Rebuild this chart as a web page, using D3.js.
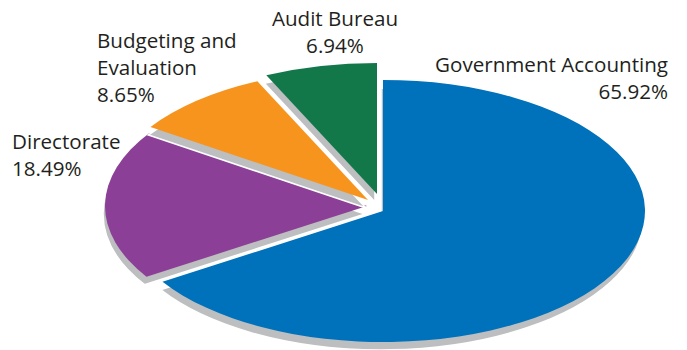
<!DOCTYPE html>
<html>
<head>
<meta charset="utf-8">
<script src="https://cdn.jsdelivr.net/npm/d3@7"></script>
<style>
  html, body { margin: 0; padding: 0; background: #ffffff; }
  svg { display: block; }
  text { font-family: "Open Sans", "Noto Sans", sans-serif; fill: #231f20; }
</style>
</head>
<body>
<svg id="chart" width="687" height="350"></svg>
<script>
// Expenditure share by unit
const categories = ["Government Accounting", "Directorate", "Budgeting and Evaluation", "Audit Bureau"];
const shares = [65.92, 18.49, 8.65, 6.94];
const labelLines = [["Government Accounting"], ["Directorate"], ["Budgeting and", "Evaluation"], ["Audit Bureau"]];
const colors = ["#0071bb", "#8c3f96", "#f7941e", "#12784a"];

// Layout
const W = 687, H = 350;
const cx = 383, cy = 211;
const rx = 262, ry = 131;
const squash = ry / rx;
const depth = { dx: -2, dy: 8 };
const sideColor = "#bcbec0";
// how far each wedge is pulled out from the centre (screen px)
const explode = [[0, 0], [-16, -5], [-15, -11], [-6, -17]];
// label anchors: x, first baseline, text-anchor
const labelPos = [
  { x: 668, y: 72, anchor: "end" },
  { x: 12, y: 149, anchor: "start" },
  { x: 97, y: 48, anchor: "start" },
  { x: 335, y: 26, anchor: "middle" }
];
const lineHeight = 27;
const fontSize = 20.6;

const svg = d3.select("#chart");

const pie = d3.pie().sort(null).value(d => d).startAngle(0).endAngle(2 * Math.PI);
const arcs = pie(shares);
const arc = d3.arc().innerRadius(0).outerRadius(rx);

const wedges = svg.append("g").attr("class", "wedges");

arcs.forEach((a, i) => {
  const g = wedges.append("g")
    .attr("transform", `translate(${cx + explode[i][0]},${cy + explode[i][1]})`);

  // extruded side of the wedge
  g.append("path")
    .attr("d", arc(a))
    .attr("transform", `translate(${depth.dx},${depth.dy}) scale(1,${squash})`)
    .attr("fill", sideColor)
    .attr("stroke", "#ffffff")
    .attr("stroke-width", 1.6)
    .attr("stroke-linejoin", "miter")
    .attr("vector-effect", "non-scaling-stroke");

  // top face
  g.append("path")
    .attr("d", arc(a))
    .attr("transform", `scale(1,${squash})`)
    .attr("fill", colors[i]);
});

// labels
const labels = svg.append("g").attr("class", "labels");
categories.forEach((c, i) => {
  const p = labelPos[i];
  const t = labels.append("text")
    .attr("x", p.x)
    .attr("y", p.y)
    .attr("text-anchor", p.anchor)
    .attr("font-size", fontSize);
  const lines = labelLines[i].concat([shares[i].toFixed(2) + "%"]);
  lines.forEach((ln, k) => {
    t.append("tspan")
      .attr("x", p.x)
      .attr("dy", k === 0 ? 0 : lineHeight)
      .text(ln);
  });
});
</script>
</body>
</html>
